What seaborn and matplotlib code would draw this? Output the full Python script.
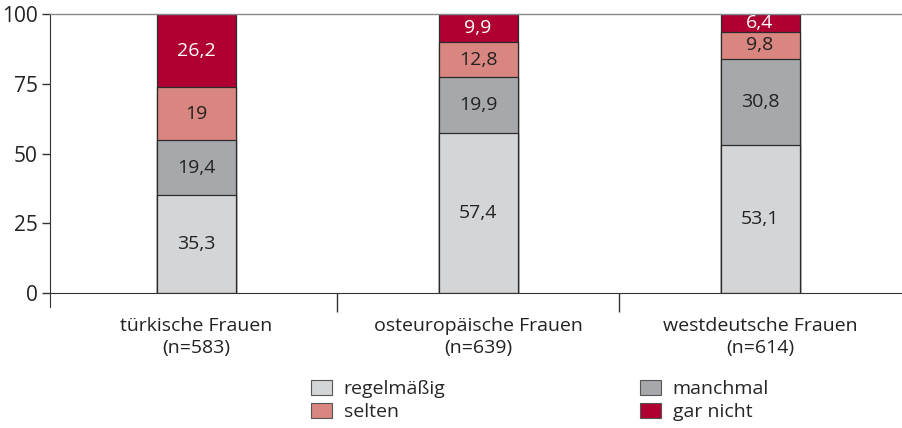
import numpy as np
import pandas as pd
import matplotlib
matplotlib.use("Agg")
import matplotlib.pyplot as plt
import seaborn as sns
from matplotlib.patches import Patch

# === Data ===
groups = ["türkische Frauen\n(n=583)", "osteuropäische Frauen\n(n=639)", "westdeutsche Frauen\n(n=614)"]
categories = ["regelmäßig", "manchmal", "selten", "gar nicht"]
regelmaessig = [35.3, 57.4, 53.1]
manchmal = [19.4, 19.9, 30.8]
selten = [19.0, 12.8, 9.8]
gar_nicht = [26.2, 9.9, 6.4]
labels_txt = {
    "regelmäßig": ["35,3", "57,4", "53,1"],
    "manchmal": ["19,4", "19,9", "30,8"],
    "selten": ["19", "12,8", "9,8"],
    "gar nicht": ["26,2", "9,9", "6,4"],
}

colors = {
    "regelmäßig": "#d4d5d7",
    "manchmal": "#a7a8ab",
    "selten": "#d98580",
    "gar nicht": "#b00032",
}
text_colors = {"regelmäßig": "#222222", "manchmal": "#222222",
               "selten": "#222222", "gar nicht": "white"}

sns.set_style("white")
plt.rcParams["font.family"] = ["Open Sans", "DejaVu Sans"]

df = pd.DataFrame({"group": groups, "regelmäßig": regelmaessig, "manchmal": manchmal,
                   "selten": selten, "gar nicht": gar_nicht})
cum = df[categories].cumsum(axis=1)

fig = plt.figure(figsize=(9.03, 4.28), dpi=100)
ax = fig.add_axes([0.0554, 0.3154, 0.9424, 0.6516])

# draw cumulative bars from top layer down so they stack visually
for cat in reversed(categories):
    sns.barplot(x=df["group"], y=cum[cat].clip(upper=100), color=colors[cat],
                width=0.28, edgecolor="#2b2b2b", linewidth=0.9, ax=ax,
                saturation=1)

for cat in categories:
    bottoms = cum[cat] - df[cat]
    for i in range(len(groups)):
        top = min(cum[cat][i], 100)
        mid = (bottoms[i] + top) / 2
        ax.text(i, mid, labels_txt[cat][i], ha="center", va="center",
                fontsize=14, color=text_colors[cat])

ax.set_ylim(0, 100)
ax.set_xlim(-0.518, 2.5)
ax.set_yticks([0, 25, 50, 75, 100])
ax.set_ylabel("")
ax.set_xlabel("")
ax.tick_params(axis="y", direction="out", length=6, width=1, color="#333333",
               labelsize=15, labelcolor="#222222", pad=3, left=True)
ax.tick_params(axis="x", length=0, labelsize=14, labelcolor="#222222", pad=17)
ax.set_xticks([0.5, 1.5], minor=True)
ax.tick_params(axis="x", which="minor", direction="out", length=14, width=1,
               color="#333333", bottom=True)

ax.spines["right"].set_visible(False)
ax.spines["top"].set_color("#888888")
ax.spines["top"].set_linewidth(1)
ax.spines["left"].set_color("#333333")
ax.spines["left"].set_bounds(-5, 100)
ax.spines["bottom"].set_color("#333333")
for lab in ax.get_xticklabels():
    lab.set_linespacing(1.3)

handles = [Patch(facecolor=colors[c], edgecolor="#555555", linewidth=0.8, label=c)
           for c in ["regelmäßig", "selten", "manchmal", "gar nicht"]]
fig.legend(handles=handles, ncol=2, loc="lower left", bbox_to_anchor=(0.331, -0.012),
           frameon=False, fontsize=14, handlelength=1.1, handleheight=0.8,
           columnspacing=10.0, labelspacing=0.25, handletextpad=0.6, borderpad=0.1)

fig.savefig("out.png", dpi=100)
